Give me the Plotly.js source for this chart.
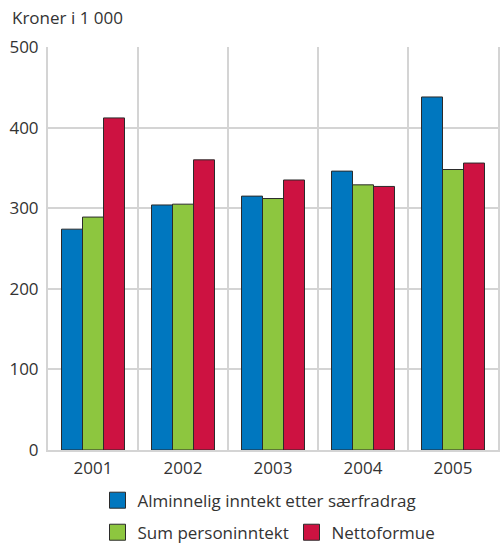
<!DOCTYPE html>
<html>
<head>
<meta charset="utf-8">
<script src="https://cdn.plot.ly/plotly-3.0.1.min.js"></script>
<style>
  html, body { margin: 0; padding: 0; background: #fff; }
  #chart { width: 500px; height: 543px; }
</style>
</head>
<body>
<div id="chart"></div>
<script>
// Years on the category axis
const years = ['2001', '2002', '2003', '2004', '2005'];

// Series (kroner i 1 000)
const alminneligInntekt = [274, 304, 315, 346, 438];
const sumPersoninntekt = [289, 305, 312, 329, 348];
const nettoformue = [412, 360, 335, 327, 356];

const seriesNames = [
  'Alminnelig inntekt etter særfradrag',
  'Sum personinntekt',
  'Nettoformue'
];
const seriesColors = ['#0077bf', '#8dc63f', '#cd1241'];
const seriesValues = [alminneligInntekt, sumPersoninntekt, nettoformue];
// First series gets its own legend row, the other two share the second row
const seriesLegends = ['legend', 'legend2', 'legend2'];
const outline = { color: '#2b2b2b', width: 1 };

// The bars themselves
const barTraces = seriesValues.map((vals, i) => ({
  type: 'bar',
  name: seriesNames[i],
  x: years,
  y: vals,
  legendgroup: 'g' + i,
  showlegend: false,
  marker: { color: seriesColors[i], line: outline },
  hoverinfo: 'x+y+name'
}));

// Legend keys: larger square swatches than the default bar key
const keyTraces = seriesNames.map((name, i) => ({
  type: 'scatter',
  mode: 'markers',
  name: name,
  x: [null],
  y: [null],
  legend: seriesLegends[i],
  legendgroup: 'g' + i,
  marker: { symbol: 'square', size: 16, color: seriesColors[i], line: outline },
  hoverinfo: 'skip'
}));

const textFont = { family: '"Open Sans", "Noto Sans", sans-serif', size: 17, color: '#333' };

const legendBase = {
  orientation: 'h',
  xref: 'container',
  yref: 'container',
  x: 0.195,
  xanchor: 'left',
  yanchor: 'middle',
  font: textFont,
  traceorder: 'normal',
  itemsizing: 'trace',
  bgcolor: 'rgba(0,0,0,0)'
};

const layout = {
  width: 500,
  height: 543,
  margin: { l: 48, r: 2, t: 47, b: 93, autoexpand: false },
  paper_bgcolor: '#fff',
  plot_bgcolor: '#fff',
  barmode: 'group',
  bargap: 0.3,
  bargroupgap: 0,
  font: textFont,
  showlegend: true,
  legend: Object.assign({}, legendBase, { y: 0.078 }),
  legend2: Object.assign({}, legendBase, { y: 0.019, entrywidth: 149 }),
  xaxis: {
    type: 'category',
    categoryarray: years,
    tickson: 'boundaries',
    showgrid: true,
    gridcolor: '#d4d4d4',
    gridwidth: 2,
    ticks: '',
    showline: true,
    linecolor: '#d4d4d4',
    linewidth: 2,
    ticklabelstandoff: 2,
    tickfont: textFont,
    fixedrange: true
  },
  yaxis: {
    range: [0, 500],
    dtick: 100,
    showgrid: true,
    gridcolor: '#d4d4d4',
    gridwidth: 2,
    zeroline: false,
    showline: true,
    mirror: true,
    linecolor: '#d4d4d4',
    linewidth: 2,
    ticks: '',
    ticklabelstandoff: 4,
    tickfont: textFont,
    fixedrange: true
  },
  annotations: [{
    text: 'Kroner i 1 000',
    xref: 'paper', yref: 'paper',
    x: -0.084, y: 1.0744,
    xanchor: 'left', yanchor: 'middle',
    showarrow: false,
    font: textFont
  }]
};

Plotly.newPlot('chart', barTraces.concat(keyTraces), layout, { displayModeBar: false, staticPlot: true });
</script>
</body>
</html>
